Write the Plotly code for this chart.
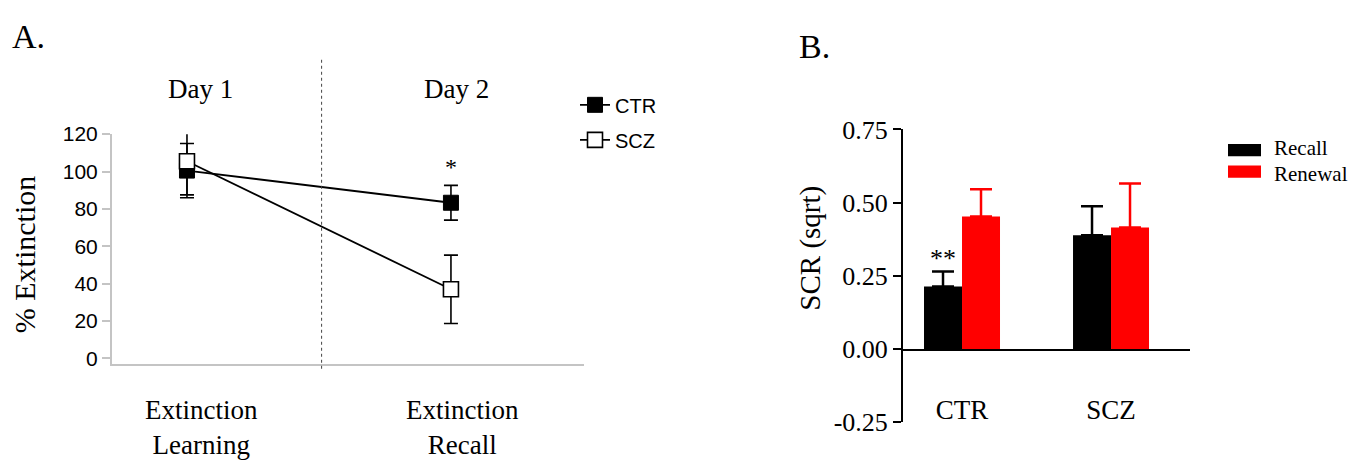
import plotly.graph_objects as go

W, H = 1371, 472

# ---------------- Panel A data ----------------
phase_pos = [0, 1]
phase_labels = ["Extinction<br>Learning", "Extinction<br>Recall"]
day_labels = ["Day 1", "Day 2"]
ctr_ext = [100.5, 83.3]
ctr_err = [14.5, 9.3]
scz_ext = [105.5, 37.0]
scz_err = [18.0, 18.3]
a_yticks = [0, 20, 40, 60, 80, 100, 120]

# ---------------- Panel B data ----------------
groups = ["CTR", "SCZ"]
recall_scr = [0.214, 0.389]
recall_err = [0.051, 0.099]
renewal_scr = [0.453, 0.415]
renewal_err = [0.093, 0.150]
b_yticks = [-0.25, 0.0, 0.25, 0.5, 0.75]
b_yticktext = ["-0.25", "0.00", "0.25", "0.50", "0.75"]

SERIF = "Liberation Serif, Times New Roman, serif"
SANS = "Liberation Sans, Arial, sans-serif"

def px(x):
    return x / W

def py(y):
    return 1 - y / H

fig = go.Figure()

# Panel A traces
fig.add_trace(go.Scatter(
    x=phase_pos, y=ctr_ext, mode="lines+markers", name="CTR",
    line=dict(color="black", width=1.8),
    marker=dict(symbol="square", size=15, color="black", line=dict(color="black", width=1)),
    error_y=dict(type="data", array=ctr_err, color="black", thickness=1.6, width=7),
    xaxis="x", yaxis="y", legend="legend", legendgroup="ctr",
))
fig.add_trace(go.Scatter(
    x=phase_pos, y=scz_ext, mode="lines+markers", name="SCZ",
    line=dict(color="black", width=1.8),
    marker=dict(symbol="square", size=15, color="white", line=dict(color="black", width=1.6)),
    error_y=dict(type="data", array=scz_err, color="black", thickness=1.6, width=7),
    xaxis="x", yaxis="y", legend="legend", legendgroup="scz",
))

# Panel B traces
fig.add_trace(go.Bar(
    x=[0, 1], y=recall_scr, name="Recall", marker=dict(color="black", line=dict(width=0)),
    error_y=dict(type="data", array=recall_err, arrayminus=[0, 0], symmetric=False,
                 color="black", thickness=2.5, width=11),
    xaxis="x2", yaxis="y2", showlegend=False,
))
fig.add_trace(go.Bar(
    x=[0, 1], y=renewal_scr, name="Renewal", marker=dict(color="#ff0000", line=dict(width=0)),
    error_y=dict(type="data", array=renewal_err, arrayminus=[0, 0], symmetric=False,
                 color="#ff0000", thickness=2.5, width=11),
    xaxis="x2", yaxis="y2", showlegend=False,
))

annotations = []

def ann(**kw):
    kw.setdefault("showarrow", False)
    kw.setdefault("xanchor", "center")
    kw.setdefault("yanchor", "middle")
    annotations.append(kw)

# Panel A texts
ann(text="A.", x=px(29), y=py(24), xref="paper", yref="paper",
    font=dict(family=SERIF, size=34, color="black"))
for i, d in enumerate(day_labels):
    ann(text=d, x=phase_pos[i], xshift=[14, 6][i], y=py(80), xref="x", yref="paper",
        font=dict(family=SERIF, size=27, color="black"))
for i, lab in enumerate(phase_labels):
    ann(text=lab, x=phase_pos[i], xshift=[15, 12][i], y=py(441), xref="x", yref="paper",
        font=dict(family=SERIF, size=27, color="black"))
ann(text="% Extinction", textangle=-90, x=px(24), y=py(257), xref="paper", yref="paper",
    font=dict(family=SERIF, size=30, color="black"))
ann(text="*", x=phase_pos[1], y=ctr_ext[1] + ctr_err[1] + 10, xref="x", yref="y",
    font=dict(family=SERIF, size=24, color="black"))

# Panel B texts
ann(text="B.", x=px(814), y=py(35), xref="paper", yref="paper",
    font=dict(family=SERIF, size=34, color="black"))
ann(text="SCR (sqrt)", textangle=-90, x=px(811), y=py(250), xref="paper", yref="paper",
    font=dict(family=SERIF, size=29, color="black"))
ann(text="**", x=-0.1275, y=recall_scr[0] + recall_err[0] + 0.045, xref="x2", yref="y2",
    font=dict(family=SERIF, size=26, color="black"))

# Manual legend for panel B
leg_items = [("Recall", "black", 145, 143), ("Renewal", "#ff0000", 168, 170)]
shapes = []
for name, col, yc, yt in leg_items:
    shapes.append(dict(type="rect", xref="paper", yref="paper", x0=px(1228), x1=px(1261),
                       y0=py(yc + 6.5), y1=py(yc - 6.5), fillcolor=col, line=dict(width=0)))
    ann(text=name, x=px(1272), y=py(yt), xref="paper", yref="paper", xanchor="left",
        font=dict(family=SERIF, size=21, color="black"))

# Divider line in panel A
shapes.append(dict(type="line", xref="x", yref="paper", x0=0.51, x1=0.51, y0=py(378), y1=py(48),
                   line=dict(color="#444444", width=1, dash="dot")))

fig.update_layout(
    width=W, height=H, autosize=False,
    margin=dict(l=0, r=0, t=0, b=0),
    paper_bgcolor="white", plot_bgcolor="white",
    showlegend=True,
    barmode="group", bargap=0.49, bargroupgap=0,
    annotations=annotations, shapes=shapes,
    legend=dict(x=px(575), y=py(76), xanchor="left", yanchor="top",
                font=dict(family=SANS, size=20, color="black"),
                bgcolor="rgba(0,0,0,0)", borderwidth=0, tracegroupgap=6),
    xaxis=dict(domain=[px(112), px(584)], range=[-0.284, 1.504], showline=True, linecolor="#c4c4c4",
               linewidth=2, showticklabels=False, ticks="", showgrid=False, zeroline=False, anchor="y"),
    yaxis=dict(domain=[py(373), py(128)], range=[-3, 120], tickvals=a_yticks, showline=True,
               linecolor="#c4c4c4", linewidth=2, ticks="outside", ticklen=8, tickwidth=1.5,
               tickcolor="#c4c4c4", showgrid=False, zeroline=False, anchor="x",
               tickfont=dict(family=SANS, size=21, color="black")),
    xaxis2=dict(domain=[px(903), px(1190)], range=[-0.396, 1.53], anchor="free", position=py(358),
                showline=True, linecolor="black", linewidth=2, ticks="", showgrid=False, zeroline=False,
                tickvals=[0, 1], ticktext=groups, ticklabelstandoff=36,
                tickfont=dict(family=SERIF, size=27, color="black")),
    yaxis2=dict(domain=[py(435), py(123)], range=[-0.25, 0.75], tickvals=b_yticks, ticktext=b_yticktext,
                showline=True, linecolor="black", linewidth=2, ticks="outside", ticklen=8, tickwidth=2,
                tickcolor="black", showgrid=False, zeroline=False, anchor="x2",
                tickfont=dict(family=SERIF, size=26, color="black")),
)

fig.write_html("out.html")
